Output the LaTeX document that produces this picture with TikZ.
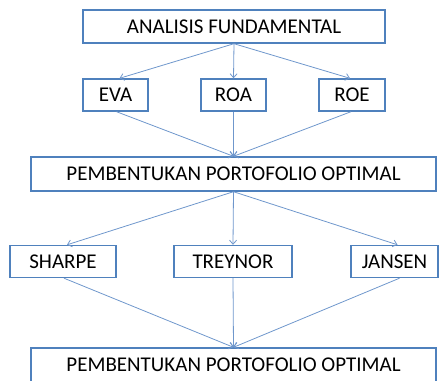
\documentclass[tikz,border=0pt]{standalone}
\usepackage{fontspec}
\setmainfont{Carlito}
\usetikzlibrary{arrows.meta}
\definecolor{boxblue}{HTML}{4F81BD}
\definecolor{arrblue}{HTML}{6F97CC}
\begin{document}
\begin{tikzpicture}[x=1pt,y=-1pt,
  bx/.style={draw=boxblue,line width=1.4pt,fill=white,inner sep=0pt,font=\fontsize{21}{24}\selectfont},
  arr/.style={draw=arrblue,line width=0.8pt,-{Straight Barb[length=4pt,width=7pt]}}]
\useasboundingbox (0,0) rectangle (444,380);
\node[bx,minimum width=302pt,minimum height=33pt] (af) at (234,26.5) {ANALISIS FUNDAMENTAL};
\node[bx,minimum width=65pt,minimum height=32pt] (eva) at (115.5,95) {EVA};
\node[bx,minimum width=65pt,minimum height=32pt] (roa) at (233.5,95) {ROA};
\node[bx,minimum width=66pt,minimum height=32pt] (roe) at (352,95) {ROE};
\node[bx,minimum width=405pt,minimum height=34pt] (p1) at (233.5,174) {PEMBENTUKAN PORTOFOLIO OPTIMAL};
\node[bx,minimum width=106pt,minimum height=32pt] (sh) at (63,261.5) {SHARPE};
\node[bx,minimum width=118pt,minimum height=32pt] (tr) at (233,261.5) {TREYNOR};
\node[bx,minimum width=87pt,minimum height=32pt] (ja) at (394.5,261.5) {JANSEN};
\node[bx,minimum width=405pt,minimum height=34pt] (p2) at (233.5,365) {PEMBENTUKAN PORTOFOLIO OPTIMAL};
\coordinate (afb) at (af.south);
\draw[arr] (afb) -- ([xshift=4pt]eva.north);
\draw[arr] (afb) -- (roa.north);
\draw[arr] (afb) -- ([xshift=-2pt]roe.north);
\draw[arr] ([xshift=1pt]eva.south) -- (p1.north);
\draw[arr] (roa.south) -- (p1.north);
\draw[arr] ([xshift=-1pt]roe.south) -- (p1.north);
\draw[arr] (p1.south) -- ([xshift=4pt]sh.north);
\draw[arr] (p1.south) -- (tr.north);
\draw[arr] (p1.south) -- ([xshift=3pt]ja.north);
\draw[arr] ([xshift=1pt]sh.south) -- (p2.north);
\draw[arr] (tr.south) -- (p2.north);
\draw[arr] ([xshift=5pt]ja.south) -- (p2.north);
\end{tikzpicture}
\end{document}
